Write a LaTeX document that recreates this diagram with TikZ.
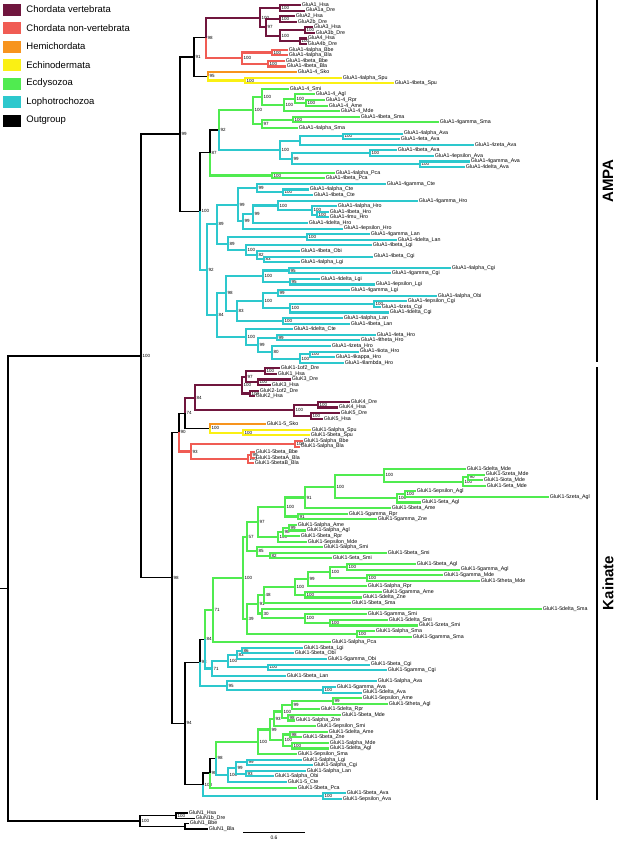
\documentclass[tikz,border=0pt]{standalone}
\usepackage{fontspec}
\setmainfont{Liberation Sans}
\usetikzlibrary{positioning}

\definecolor{cVert}{RGB}{112,22,62}
\definecolor{cNonv}{RGB}{240,92,84}
\definecolor{cHemi}{RGB}{247,148,30}
\definecolor{cEchi}{RGB}{250,240,20}
\definecolor{cEcdy}{RGB}{80,235,80}
\definecolor{cLoph}{RGB}{45,200,205}

\tikzset{
  lf/.style={anchor=west, inner sep=0.6pt, font=\fontsize{5.3}{6}\selectfont},
  bs/.style={inner sep=1.3pt, font=\fontsize{4.5}{5}\selectfont},
  blk/.style={draw=black, line width=1.1pt},
  clade/.style={draw=#1, line width=2.1pt},
  vrt/.style={clade=cVert}, nvt/.style={clade=cNonv}, hmi/.style={clade=cHemi},
  ech/.style={clade=cEchi}, ecd/.style={clade=cEcdy}, lph/.style={clade=cLoph},
  legbox/.style={minimum width=18pt, minimum height=12pt, inner sep=0pt},
  legtxt/.style={font=\fontsize{9.5}{10}\selectfont, inner sep=0pt},
}

\begin{document}
\begin{tikzpicture}[x=1pt, y=-1pt]
\useasboundingbox (0,0) rectangle (617,841);

% legend
\node[legbox, fill=cVert] (leg1) at (12,9.5) {};
\node[legbox, fill=cNonv] (leg2) at (12,28) {};
\node[legbox, fill=cHemi] (leg3) at (12,46.5) {};
\node[legbox, fill=cEchi] (leg4) at (12,65) {};
\node[legbox, fill=cEcdy] (leg5) at (12,83.5) {};
\node[legbox, fill=cLoph] (leg6) at (12,102) {};
\node[legbox, fill=black] (leg7) at (12,120.5) {};
\node[legtxt, right=5pt of leg1] (lt1) {Chordata vertebrata};
\node[legtxt, right=5pt of leg2] (lt2) {Chordata non-vertebrata};
\node[legtxt, right=5pt of leg3] (lt3) {Hemichordata};
\node[legtxt, right=5pt of leg4] (lt4) {Echinodermata};
\node[legtxt, right=5pt of leg5] (lt5) {Ecdysozoa};
\node[legtxt, right=5pt of leg6] (lt6) {Lophotrochozoa};
\node[legtxt, right=5pt of leg7] (lt7) {Outgroup};

% leaves
\foreach \i/\x/\t in {0/301/GluA1\_Hsa, 1/305/GluA1a\_Dre, 2/295/GluA2\_Hsa, 3/297/GluA2b\_Dre,
  4/313/GluA3\_Hsa, 5/315/GluA3b\_Dre, 6/307/GluA4\_Hsa, 7/307/GluA4b\_Dre,
  8/288/GluA1-4alpha\_Bbe, 9/288/GluA1-4alpha\_Bla, 10/285/GluA1-4beta\_Bbe, 11/286/GluA1-4beta\_Bla,
  12/297/GluA1-4\_Sko, 13/342/GluA1-4alpha\_Spu, 14/394/GluA1-4beta\_Spu,
  15/289/GluA1-4\_Smi, 16/315/GluA1-4\_Agl, 17/325/GluA1-4\_Rpr, 18/328/GluA1-4\_Ame, 19/340/GluA1-4\_Mde,
  20/360/GluA1-4beta\_Sma, 21/439/GluA1-4gamma\_Sma, 22/298/GluA1-4alpha\_Sma,
  23/403/GluA1-4alpha\_Ava, 24/400/GluA1-4eta\_Ava, 25/474/GluA1-4zeta\_Ava, 26/397/GluA1-4beta\_Ava,
  27/434/GluA1-4epsilon\_Ava, 28/470/GluA1-4gamma\_Ava, 29/465/GluA1-4delta\_Ava,
  30/335/GluA1-4alpha\_Pca, 31/325/GluA1-4beta\_Pca, 32/386/GluA1-4gamma\_Cte, 33/309/GluA1-4alpha\_Cte,
  34/313/GluA1-4beta\_Cte, 35/418/GluA1-4gamma\_Hro, 36/337/GluA1-4alpha\_Hro, 37/329/GluA1-4beta\_Hro,
  38/329/GluA1-4mu\_Hro, 39/308/GluA1-4delta\_Hro, 40/343/GluA1-4epsilon\_Hro, 41/370/GluA1-4gamma\_Lan,
  42/397/GluA1-4delta\_Lan, 43/372/GluA1-4beta\_Lgi, 44/300/GluA1-4beta\_Obi, 45/373/GluA1-4beta\_Cgi,
  46/300/GluA1-4alpha\_Lgi, 47/451/GluA1-4alpha\_Cgi, 48/391/GluA1-4gamma\_Cgi, 49/320/GluA1-4delta\_Lgi,
  50/375/GluA1-4epsilon\_Lgi, 51/350/GluA1-4gamma\_Lgi, 52/437/GluA1-4alpha\_Obi, 53/407/GluA1-4epsilon\_Cgi,
  54/381/GluA1-4zeta\_Cgi, 55/389/GluA1-4delta\_Cgi, 56/343/GluA1-4alpha\_Lan, 57/350/GluA1-4beta\_Lan,
  58/293/GluA1-4delta\_Cte, 59/376/GluA1-4eta\_Hro, 60/360/GluA1-4theta\_Hro, 61/331/GluA1-4zeta\_Hro,
  62/359/GluA1-4iota\_Hro, 63/335/GluA1-4kappa\_Hro, 64/344/GluA1-4lambda\_Hro,
  65/280/GluK1-1of2\_Dre, 66/277/GluK1\_Hsa, 67/291/GluK3\_Dre, 68/271/GluK3\_Hsa, 69/259/GluK2-1of2\_Dre,
  70/255/GluK2\_Hsa, 71/350/GluK4\_Dre, 72/338/GluK4\_Hsa, 73/340/GluK5\_Dre, 74/323/GluK5\_Hsa,
  75/266/GluK1-5\_Sko, 76/311/GluK1-5alpha\_Spu, 77/310/GluK1-5beta\_Spu, 78/303/GluK1-5alpha\_Bbe,
  79/300/GluK1-5alpha\_Bla, 80/255/GluK1-5beta\_Bbe, 81/255/GluK1-5betaA\_Bla, 82/254/GluK1-5betaB\_Bla,
  83/466/GluK1-5delta\_Mde, 84/485/GluK1-5zeta\_Mde, 85/483/GluK1-5iota\_Mde, 86/486/GluK1-5eta\_Mde,
  87/416/GluK1-5epsilon\_Agl, 88/549/GluK1-5zeta\_Agl, 89/421/GluK1-5eta\_Agl, 90/391/GluK1-5beta\_Ame,
  91/348/GluK1-5gamma\_Rpr, 92/377/GluK1-5gamma\_Zne, 93/297/GluK1-5alpha\_Ame, 94/306/GluK1-5alpha\_Agl,
  95/300/GluK1-5beta\_Rpr, 96/307/GluK1-5epsilon\_Mde, 97/323/GluK1-5alpha\_Smi, 98/387/GluK1-5beta\_Smi,
  99/332/GluK1-5eta\_Smi, 100/416/GluK1-5beta\_Agl, 101/460/GluK1-5gamma\_Agl, 102/443/GluK1-5gamma\_Mde,
  103/480/GluK1-5theta\_Mde, 104/367/GluK1-5alpha\_Rpr, 105/382/GluK1-5gamma\_Ame, 106/362/GluK1-5delta\_Zne,
  107/351/GluK1-5beta\_Sma, 108/542/GluK1-5delta\_Sma, 109/367/GluK1-5gamma\_Smi, 110/388/GluK1-5delta\_Smi,
  111/418/GluK1-5zeta\_Smi, 112/375/GluK1-5alpha\_Sma, 113/412/GluK1-5gamma\_Sma, 114/331/GluK1-5alpha\_Pca,
  115/303/GluK1-5beta\_Lgi, 116/294/GluK1-5beta\_Obi, 117/327/GluK1-5gamma\_Obi, 118/370/GluK1-5beta\_Cgi,
  119/387/GluK1-5gamma\_Cgi, 120/286/GluK1-5beta\_Lan, 121/377/GluK1-5alpha\_Ava, 122/336/GluK1-5gamma\_Ava,
  123/362/GluK1-5delta\_Ava, 124/362/GluK1-5epsilon\_Ame, 125/388/GluK1-5theta\_Agl, 126/320/GluK1-5delta\_Rpr,
  127/341/GluK1-5beta\_Mde, 128/295/GluK1-5alpha\_Zne, 129/316/GluK1-5epsilon\_Smi, 130/328/GluK1-5delta\_Ame,
  131/302/GluK1-5beta\_Zne, 132/329/GluK1-5alpha\_Mde, 133/329/GluK1-5delta\_Agl, 134/297/GluK1-5epsilon\_Sma,
  135/302/GluK1-5alpha\_Lgi, 136/313/GluK1-5alpha\_Cgi, 137/306/GluK1-5alpha\_Lan, 138/274/GluK1-5alpha\_Obi,
  139/287/GluK1-5\_Cte, 140/297/GluK1-5beta\_Pca, 141/346/GluK1-5beta\_Ava, 142/342/GluK1-5epsilon\_Ava}
  \node[lf] (l\i) at (\x,{5+5.59*\i}) {\t};
\node[lf] (l143) at (188,813) {GluN1\_Hsa};
\node[lf] (l144) at (195,818.5) {GluN1b\_Dre};
\node[lf] (l145) at (189,823.5) {GluN1\_Bbe};
\node[lf] (l146) at (208,829) {GluN1\_Bla};

% backbone
\coordinate (r0) at (0,588.5);
\coordinate (r) at (8,588.5);
\coordinate[label={[bs]0:100}] (ing) at (141,356);
\coordinate[label={[bs]0:100}] (out) at (140,821);
\coordinate[label={[bs]0:100}] (oHD) at (176,815.7);
\coordinate (oBB) at (185,826.2);

% AMPA
\coordinate[label={[bs]0:99}] (ampa) at (180,134);
\coordinate[label={[bs]0:91}] (a91) at (194,57);
\coordinate[label={[bs]0:98}] (a98) at (206,37.8);
\coordinate[label={[bs]0:100}] (aVert) at (260,17.6);
\coordinate[label={[bs]0:100}] (aA1) at (280,7.8);
\coordinate[label={[bs]0:97}] (a97) at (266,27.4);
\coordinate[label={[bs]0:100}] (aA2) at (280,19);
\coordinate[label={[bs]0:100}] (aA34) at (280,35.8);
\coordinate[label={[bs]0:100}] (aA3) at (305,30.2);
\coordinate[label={[bs]0:100}] (aA4) at (300,41.3);
\coordinate[label={[bs]0:100}] (aNV) at (242,58);
\coordinate[label={[bs]0:100}] (aNVa) at (272,52.5);
\coordinate[label={[bs]0:100}] (aNVb) at (268,63.7);
\coordinate[label={[bs]0:95}] (a95) at (208,76.3);
\coordinate[label={[bs]0:100}] (aSpu) at (245,80.5);
\coordinate[label={[bs]0:100}] (a100) at (200,211.3);
\coordinate[label={[bs]0:87}] (a87) at (210,152.8);
\coordinate[label={[bs]0:92}] (a92) at (219,130);
\coordinate[label={[bs]0:100}] (aEcd) at (253,110.4);
\coordinate[label={[bs]0:100}] (aE1) at (262,96.9);
\coordinate[label={[bs]0:100}] (aE2) at (284,104.9);
\coordinate[label={[bs]0:100}] (aE3) at (295,98.6);
\coordinate[label={[bs]0:100}] (aE4) at (306,102.8);
\coordinate[label={[bs]0:97}] (aE97) at (262,123.8);
\coordinate[label={[bs]0:100}] (aE5) at (293,119.6);
\coordinate[label={[bs]0:100}] (aAva) at (280,149.7);
\coordinate (aAv1) at (300,140.6);
\coordinate[label={[bs]0:100}] (aAv2) at (343,136.4);
\coordinate[label={[bs]0:99}] (aAv99) at (292,158.7);
\coordinate[label={[bs]0:100}] (aAv3) at (370,153.1);
\coordinate[label={[bs]0:100}] (aAv4) at (420,164.3);
\coordinate[label={[bs]0:100}] (aPca) at (272,175.5);
\coordinate[label={[bs]0:92}] (aL92) at (207,269.8);
\coordinate[label={[bs]0:89}] (aL89) at (217,224.3);
\coordinate[label={[bs]0:99}] (aL99) at (238,204.8);
\coordinate[label={[bs]0:99}] (aCte) at (257,188.1);
\coordinate[label={[bs]0:100}] (aCte2) at (283,192.3);
\coordinate[label={[bs]0:99}] (aHro) at (243,221.4);
\coordinate[label={[bs]0:99}] (aHro2) at (253,214.3);
\coordinate[label={[bs]0:100}] (aHro3) at (278,205.5);
\coordinate[label={[bs]0:100}] (aHro4) at (312,210.4);
\coordinate[label={[bs]0:100}] (aHro5) at (317,214.6);
\coordinate[label={[bs]0:89}] (aL89b) at (228,243.7);
\coordinate[label={[bs]0:100}] (aLan) at (307,237);
\coordinate[label={[bs]0:100}] (aL100c) at (246,250.3);
\coordinate[label={[bs]0:82}] (aL82) at (257,255.2);
\coordinate[label={[bs]0:83}] (aL83) at (264,259.3);
\coordinate[label={[bs]0:84}] (aL84) at (217,315.3);
\coordinate[label={[bs]0:98}] (aL98) at (226,293.4);
\coordinate[label={[bs]0:100}] (aL100e) at (263,276.1);
\coordinate[label={[bs]0:95}] (aL95a) at (289,270.5);
\coordinate[label={[bs]0:95}] (aL95b) at (290,281.7);
\coordinate[label={[bs]0:83}] (aL83b) at (237,310.7);
\coordinate[label={[bs]0:100}] (aL100f) at (263,300.6);
\coordinate[label={[bs]0:99}] (aL99b) at (278,292.9);
\coordinate[label={[bs]0:100}] (aL100g) at (290,308.3);
\coordinate[label={[bs]0:100}] (aCgi) at (374,304.1);
\coordinate[label={[bs]0:100}] (aLan2) at (283,320.8);
\coordinate[label={[bs]0:100}] (aL100d) at (246,337.1);
\coordinate[label={[bs]0:99}] (aL99c) at (258,345);
\coordinate[label={[bs]0:99}] (aHr99) at (277,337.6);
\coordinate[label={[bs]0:80}] (aL80) at (272,352.3);
\coordinate[label={[bs]0:100}] (aL100h) at (300,358.6);
\coordinate[label={[bs]0:100}] (aHr100) at (310,354.4);

% Kainate
\coordinate[label={[bs]0:98}] (kai) at (172,577.9);
\coordinate[label={[bs]0:90}] (k90) at (179,432.3);
\coordinate[label={[bs]0:74}] (k74) at (185,413.1);
\coordinate[label={[bs]0:84}] (k84) at (195,397.8);
\coordinate[label={[bs]0:100}] (kV100) at (242,385.1);
\coordinate[label={[bs]0:97}] (kV97) at (246,376.8);
\coordinate[label={[bs]0:100}] (kK1) at (265,371.2);
\coordinate[label={[bs]0:100}] (kK3) at (258,382.3);
\coordinate[label={[bs]0:100}] (kK2) at (250,393.5);
\coordinate[label={[bs]0:100}] (kV45) at (294,410.4);
\coordinate[label={[bs]0:100}] (kK4) at (318,404.8);
\coordinate[label={[bs]0:100}] (kK5) at (311,415.9);
\coordinate[label={[bs]0:100}] (kSS) at (210,428.4);
\coordinate[label={[bs]0:100}] (kSpu) at (243,432.6);
\coordinate[label={[bs]0:93}] (kNV) at (191,451.5);
\coordinate[label={[bs]0:100}] (kNVa) at (295,443.8);
\coordinate[label={[bs]0:100}] (kNVb) at (248,459.2);
\coordinate[label={[bs]0:99}] (kNVc) at (251,455);
\coordinate[label={[bs]0:94}] (k94) at (185,723.4);
\coordinate[label={[bs]0:98}] (k98b) at (200,662.4);
\coordinate[label={[bs]0:84}] (k84b) at (205,639.2);
\coordinate[label={[bs]0:71}] (kG71) at (213,609.9);
\coordinate[label={[bs]0:100}] (kG100) at (243,577.8);
\coordinate[label={[bs]0:57}] (kG57) at (247,536.6);
\coordinate[label={[bs]0:97}] (kG97) at (258,521.9);
\coordinate[label={[bs]0:100}] (kG100U) at (285,507);
\coordinate[label={[bs]0:91}] (kG91a) at (305,497.5);
\coordinate[label={[bs]0:100}] (kG100M) at (335,486.8);
\coordinate[label={[bs]0:100}] (kGMde) at (384,475.3);
\coordinate[label={[bs]0:100}] (kGMde2) at (463,481.6);
\coordinate[label={[bs]0:90}] (kGMde3) at (468,477.4);
\coordinate[label={[bs]0:100}] (kGAgl) at (397,498.3);
\coordinate[label={[bs]0:100}] (kGAgl2) at (405,494.1);
\coordinate[label={[bs]0:91}] (kG91b) at (298,516.5);
\coordinate[label={[bs]0:100}] (kG100L) at (278,536.8);
\coordinate[label={[bs]0:98}] (kG98) at (283,531.9);
\coordinate[label={[bs]0:99}] (kG99) at (289,527.7);
\coordinate[label={[bs]0:85}] (kG85) at (257,551.4);
\coordinate[label={[bs]0:82}] (kG82) at (270,555.6);
\coordinate[label={[bs]0:39}] (kG39) at (247,619);
\coordinate[label={[bs]0:100}] (kGSma) at (357,633.8);
\coordinate[label={[bs]0:91}] (kG91c) at (258,604.3);
\coordinate[label={[bs]0:48}] (kG48) at (264,595);
\coordinate[label={[bs]0:100}] (kG100n) at (295,587);
\coordinate[label={[bs]0:99}] (kG99n) at (308,579.3);
\coordinate[label={[bs]0:100}] (kG100o) at (330,572.3);
\coordinate[label={[bs]0:100}] (kGAgl3) at (347,566.7);
\coordinate[label={[bs]0:100}] (kGMde4) at (367,577.9);
\coordinate[label={[bs]0:100}] (kGAD) at (305,594.6);
\coordinate[label={[bs]0:30}] (kG30) at (262,613.5);
\coordinate[label={[bs]0:100}] (kG100p) at (305,618.4);
\coordinate[label={[bs]0:100}] (kG100q) at (330,622.6);
\coordinate[label={[bs]0:71}] (kC71) at (212,668.5);
\coordinate[label={[bs]0:100}] (kC100) at (228,661.1);
\coordinate[label={[bs]0:83}] (kC83) at (237,654.8);
\coordinate[label={[bs]0:86}] (kC86) at (242,650.7);
\coordinate[label={[bs]0:100}] (kCgi) at (268,667.4);
\coordinate[label={[bs]0:95}] (kC95) at (227,685.6);
\coordinate[label={[bs]0:100}] (kAva) at (323,689.8);
\coordinate[label={[bs]0:100}] (kN1) at (203,784.5);
\coordinate[label={[bs]0:100}] (kAva2) at (323,795.9);
\coordinate[label={[bs]0:98}] (kN2) at (210,773);
\coordinate[label={[bs]0:98}] (kN3) at (216,758.4);
\coordinate[label={[bs]0:100}] (kG0) at (258,741.8);
\coordinate[label={[bs]0:99}] (kGq99) at (270,729.5);
\coordinate[label={[bs]0:93}] (kG93) at (274,718.8);
\coordinate[label={[bs]0:100}] (kG100a) at (282,711.5);
\coordinate[label={[bs]0:99}] (kGQ) at (292,705.2);
\coordinate[label={[bs]0:99}] (kGEA) at (333,701);
\coordinate[label={[bs]0:98}] (kG98z) at (288,717.8);
\coordinate[label={[bs]0:100}] (kG100b) at (283,740.1);
\coordinate[label={[bs]0:98}] (kG98y) at (290,734.5);
\coordinate[label={[bs]0:100}] (kG100c) at (292,745.7);
\coordinate[label={[bs]0:100}] (kC0) at (228,775);
\coordinate[label={[bs]0:99}] (kC1) at (236,768);
\coordinate[label={[bs]0:99}] (kC2) at (247,762.4);
\coordinate[label={[bs]0:93}] (kC3) at (246,773.6);

% branches: backbone and outgroup
\draw[blk] (r0) -- (r);
\draw[blk] (ing) -| (r) |- (out);
\draw[blk] (ampa) -| (ing) |- (kai);
\draw[blk] (oHD) -| (out) |- (oBB);
\draw[blk] (l143.west) -| (oHD) |- (l144.west);
\draw[blk] (l145.west) -| (oBB) |- (l146.west);

% branches: AMPA
\draw[blk] (a91) -| (ampa) |- (a100);
\draw[blk] (a98) -| (a91) |- (a95);
\draw[vrt] (a98) |- (aVert);
\draw[nvt] (a98) |- (aNV);
\draw[vrt] (aA1) -| (aVert) |- (a97);
\draw[vrt] (l0.west) -| (aA1) |- (l1.west);
\draw[vrt] (aA2) -| (a97) |- (aA34);
\draw[vrt] (l2.west) -| (aA2) |- (l3.west);
\draw[vrt] (aA3) -| (aA34) |- (aA4);
\draw[vrt] (l4.west) -| (aA3) |- (l5.west);
\draw[vrt] (l6.west) -| (aA4) |- (l7.west);
\draw[nvt] (aNVa) -| (aNV) |- (aNVb);
\draw[nvt] (l8.west) -| (aNVa) |- (l9.west);
\draw[nvt] (l10.west) -| (aNVb) |- (l11.west);
\draw[hmi] (a95) |- (l12.west);
\draw[ech] (a95) |- (aSpu);
\draw[ech] (l13.west) -| (aSpu) |- (l14.west);
\draw[blk] (a100) |- (a87);
\draw[lph] (a100) |- (aL92);
\draw[blk] (a87) |- (a92);
\draw[ecd] (a87) |- (aPca);
\draw[ecd] (a92) |- (aEcd);
\draw[lph] (a92) |- (aAva);
\draw[ecd] (aE1) -| (aEcd) |- (aE97);
\draw[ecd] (l15.west) -| (aE1) |- (aE2);
\draw[ecd] (aE3) -| (aE2) |- (l19.west);
\draw[ecd] (l16.west) -| (aE3) |- (aE4);
\draw[ecd] (l17.west) -| (aE4) |- (l18.west);
\draw[ecd] (aE5) -| (aE97) |- (l22.west);
\draw[ecd] (l20.west) -| (aE5) |- (l21.west);
\draw[ecd] (l30.west) -| (aPca) |- (l31.west);
\draw[lph] (aAv1) -| (aAva) |- (aAv99);
\draw[lph] (aAv2) -| (aAv1) |- (l25.west);
\draw[lph] (l23.west) -| (aAv2) |- (l24.west);
\draw[lph] (aAv3) -| (aAv99) |- (aAv4);
\draw[lph] (l26.west) -| (aAv3) |- (l27.west);
\draw[lph] (l28.west) -| (aAv4) |- (l29.west);
\draw[lph] (aL89) -| (aL92) |- (aL84);
\draw[lph] (aL99) -| (aL89) |- (aL89b);
\draw[lph] (aCte) -| (aL99) |- (aHro);
\draw[lph] (l32.west) -| (aCte) |- (aCte2);
\draw[lph] (l33.west) -| (aCte2) |- (l34.west);
\draw[lph] (aHro2) -| (aHro) |- (l40.west);
\draw[lph] (aHro3) -| (aHro2) |- (l39.west);
\draw[lph] (l35.west) -| (aHro3) |- (aHro4);
\draw[lph] (l36.west) -| (aHro4) |- (aHro5);
\draw[lph] (l37.west) -| (aHro5) |- (l38.west);
\draw[lph] (aLan) -| (aL89b) |- (aL100c);
\draw[lph] (l41.west) -| (aLan) |- (l42.west);
\draw[lph] (l43.west) -| (aL100c) |- (aL82);
\draw[lph] (l44.west) -| (aL82) |- (aL83);
\draw[lph] (l45.west) -| (aL83) |- (l46.west);
\draw[lph] (aL98) -| (aL84) |- (aL100d);
\draw[lph] (aL100e) -| (aL98) |- (aL83b);
\draw[lph] (aL95a) -| (aL100e) |- (aL95b);
\draw[lph] (l47.west) -| (aL95a) |- (l48.west);
\draw[lph] (l49.west) -| (aL95b) |- (l50.west);
\draw[lph] (aL100f) -| (aL83b) |- (aLan2);
\draw[lph] (aL99b) -| (aL100f) |- (aL100g);
\draw[lph] (l51.west) -| (aL99b) |- (l52.west);
\draw[lph] (aCgi) -| (aL100g) |- (l55.west);
\draw[lph] (l53.west) -| (aCgi) |- (l54.west);
\draw[lph] (l56.west) -| (aLan2) |- (l57.west);
\draw[lph] (l58.west) -| (aL100d) |- (aL99c);
\draw[lph] (aHr99) -| (aL99c) |- (aL80);
\draw[lph] (l59.west) -| (aHr99) |- (l60.west);
\draw[lph] (l61.west) -| (aL80) |- (aL100h);
\draw[lph] (aHr100) -| (aL100h) |- (l64.west);
\draw[lph] (l62.west) -| (aHr100) |- (l63.west);

% branches: Kainate
\draw[blk] (k90) -| (kai) |- (k94);
\draw[blk] (k90) |- (k74);
\draw[nvt] (k90) |- (kNV);
\draw[vrt] (k74) |- (k84);
\draw[blk] (k74) |- (kSS);
\draw[vrt] (kV100) -| (k84) |- (kV45);
\draw[vrt] (kV97) -| (kV100) |- (kK2);
\draw[vrt] (kK1) -| (kV97) |- (kK3);
\draw[vrt] (l65.west) -| (kK1) |- (l66.west);
\draw[vrt] (l67.west) -| (kK3) |- (l68.west);
\draw[vrt] (l69.west) -| (kK2) |- (l70.west);
\draw[vrt] (kK4) -| (kV45) |- (kK5);
\draw[vrt] (l71.west) -| (kK4) |- (l72.west);
\draw[vrt] (l73.west) -| (kK5) |- (l74.west);
\draw[hmi] (kSS) |- (l75.west);
\draw[ech] (kSS) |- (kSpu);
\draw[ech] (l76.west) -| (kSpu) |- (l77.west);
\draw[nvt] (kNVa) -| (kNV) |- (kNVb);
\draw[nvt] (l78.west) -| (kNVa) |- (l79.west);
\draw[nvt] (kNVc) -| (kNVb) |- (l82.west);
\draw[nvt] (l80.west) -| (kNVc) |- (l81.west);
\draw[blk] (k98b) -| (k94) |- (kN1);
\draw[blk] (k98b) |- (k84b);
\draw[lph] (k98b) |- (kC95);
\draw[ecd] (k84b) |- (kG71);
\draw[lph] (k84b) |- (kC71);
\draw[ecd] (kG100) -| (kG71) |- (l114.west);
\draw[ecd] (kG57) -| (kG100) |- (kG39);
\draw[ecd] (kG97) -| (kG57) |- (kG85);
\draw[ecd] (kG100U) -| (kG97) |- (kG100L);
\draw[ecd] (kG91a) -| (kG100U) |- (kG91b);
\draw[ecd] (kG100M) -| (kG91a) |- (l90.west);
\draw[ecd] (kGMde) -| (kG100M) |- (kGAgl);
\draw[ecd] (l83.west) -| (kGMde) |- (kGMde2);
\draw[ecd] (kGMde3) -| (kGMde2) |- (l86.west);
\draw[ecd] (l84.west) -| (kGMde3) |- (l85.west);
\draw[ecd] (kGAgl2) -| (kGAgl) |- (l89.west);
\draw[ecd] (l87.west) -| (kGAgl2) |- (l88.west);
\draw[ecd] (l91.west) -| (kG91b) |- (l92.west);
\draw[ecd] (kG98) -| (kG100L) |- (l96.west);
\draw[ecd] (kG99) -| (kG98) |- (l95.west);
\draw[ecd] (l93.west) -| (kG99) |- (l94.west);
\draw[ecd] (l97.west) -| (kG85) |- (kG82);
\draw[ecd] (l98.west) -| (kG82) |- (l99.west);
\draw[ecd] (kG91c) -| (kG39) |- (kGSma);
\draw[ecd] (l112.west) -| (kGSma) |- (l113.west);
\draw[ecd] (kG48) -| (kG91c) |- (kG30);
\draw[ecd] (kG100n) -| (kG48) |- (l107.west);
\draw[ecd] (kG99n) -| (kG100n) |- (kGAD);
\draw[ecd] (l105.west) -| (kGAD) |- (l106.west);
\draw[ecd] (kG100o) -| (kG99n) |- (l104.west);
\draw[ecd] (kGAgl3) -| (kG100o) |- (kGMde4);
\draw[ecd] (l100.west) -| (kGAgl3) |- (l101.west);
\draw[ecd] (l102.west) -| (kGMde4) |- (l103.west);
\draw[ecd] (l108.west) -| (kG30) |- (kG100p);
\draw[ecd] (l109.west) -| (kG100p) |- (kG100q);
\draw[ecd] (l110.west) -| (kG100q) |- (l111.west);
\draw[lph] (kC100) -| (kC71) |- (l120.west);
\draw[lph] (kC83) -| (kC100) |- (kCgi);
\draw[lph] (kC86) -| (kC83) |- (l117.west);
\draw[lph] (l115.west) -| (kC86) |- (l116.west);
\draw[lph] (l118.west) -| (kCgi) |- (l119.west);
\draw[lph] (l121.west) -| (kC95) |- (kAva);
\draw[lph] (l122.west) -| (kAva) |- (l123.west);
\draw[blk] (kN1) |- (kN2);
\draw[lph] (kN1) |- (kAva2);
\draw[lph] (l141.west) -| (kAva2) |- (l142.west);
\draw[blk] (kN2) |- (kN3);
\draw[ecd] (kN2) |- (l140.west);
\draw[ecd] (kN3) |- (kG0);
\draw[lph] (kN3) |- (kC0);
\draw[ecd] (kGq99) -| (kG0) |- (l134.west);
\draw[ecd] (kG93) -| (kGq99) |- (kG100b);
\draw[ecd] (kG100a) -| (kG93) |- (l129.west);
\draw[ecd] (kGQ) -| (kG100a) |- (kG98z);
\draw[ecd] (kGEA) -| (kGQ) |- (l126.west);
\draw[ecd] (l124.west) -| (kGEA) |- (l125.west);
\draw[ecd] (l127.west) -| (kG98z) |- (l128.west);
\draw[ecd] (kG98y) -| (kG100b) |- (kG100c);
\draw[ecd] (l130.west) -| (kG98y) |- (l131.west);
\draw[ecd] (l132.west) -| (kG100c) |- (l133.west);
\draw[lph] (kC1) -| (kC0) |- (l139.west);
\draw[lph] (kC2) -| (kC1) |- (kC3);
\draw[lph] (l135.west) -| (kC2) |- (l136.west);
\draw[lph] (l137.west) -| (kC3) |- (l138.west);

% receptor classes
\coordinate (ampaTop) at (597,0);
\coordinate (ampaBot) at (597,362);
\coordinate (kaiTop) at (597,367);
\coordinate (kaiBot) at (597,800);
\draw[line width=2pt] (ampaTop) -- (ampaBot);
\draw[line width=2pt] (kaiTop) -- (kaiBot);
\node[rotate=90, font=\fontsize{15}{15}\selectfont\bfseries] (ampaLbl) at (608,181) {AMPA};
\node[rotate=90, font=\fontsize{15}{15}\selectfont\bfseries] (kaiLbl) at (608,583) {Kainate};

% scale bar
\coordinate (sb1) at (243,832);
\coordinate (sb2) at (305,832);
\draw[line width=0.8pt] (sb1) -- (sb2);
\node[font=\fontsize{5}{5}\selectfont, inner sep=0pt] (sbl) at (274,838) {0.6};
\end{tikzpicture}
\end{document}
